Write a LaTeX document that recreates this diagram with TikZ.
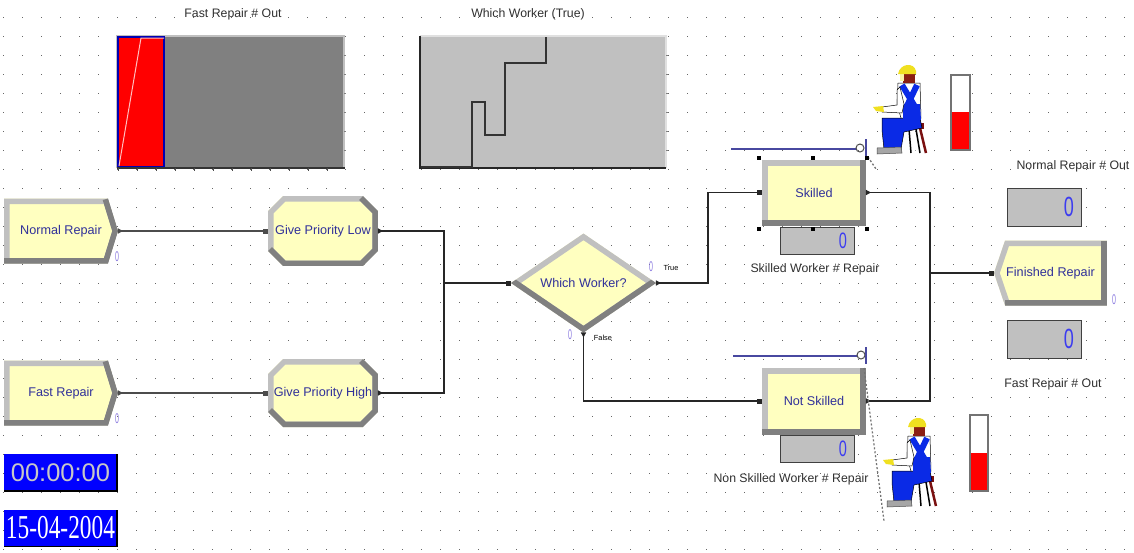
\documentclass[tikz,border=0pt]{standalone}
\usepackage{fontspec}
\setmainfont{Liberation Sans}
\newfontfamily\dateserif{Liberation Serif}
\usetikzlibrary{arrows.meta, calc}

\definecolor{modfill}{HTML}{FFFFC0}
\definecolor{modtext}{HTML}{30309A}
\definecolor{bevlight}{HTML}{C0C0C0}
\definecolor{bevdark}{HTML}{808080}
\definecolor{cntfill}{HTML}{C0C0C0}
\definecolor{cntdigit}{HTML}{3C3CF0}
\definecolor{tagzero}{HTML}{8C7CE0}
\definecolor{labeltext}{HTML}{303030}
\definecolor{resline}{HTML}{4848A0}
\definecolor{plotdark}{HTML}{808080}
\definecolor{plotlight}{HTML}{C0C0C0}
\definecolor{barred}{HTML}{FF0000}
\definecolor{clockblue}{HTML}{0000FF}
\definecolor{overall}{HTML}{0A2AE6}
\definecolor{hathue}{HTML}{F0E020}
\definecolor{hairbrown}{HTML}{8A1E12}
\definecolor{stoolred}{HTML}{7A1010}

% clipped bevel: #1 outline, #2 the darker lower/right part
\newcommand{\bevelshape}[2]{%
  \begin{scope}
    \clip #1;
    \fill[modfill] #1;
    \draw[bevlight, bevel] #1;
    \draw[bevdark, bevel] #2;
  \end{scope}}

\begin{document}
\begin{tikzpicture}[
  x=0.02cm, y=-0.02cm,
  every node/.style={inner sep=0pt, outer sep=0pt},
  bevel/.style={line width=0.22cm, line join=miter},
  module/.style={rectangle, text=modtext, font=\fontsize{7.2}{8.6}\selectfont, align=center},
  createmod/.style={module, path picture={
    \path (path picture bounding box.north west) coordinate (pa)
          (path picture bounding box.north east) coordinate (pb)
          (path picture bounding box.south east) coordinate (pc)
          (path picture bounding box.south west) coordinate (pd)
          (path picture bounding box.east) coordinate (pe);
    \bevelshape{(pa) -- ($(pb)+(-10,0)$) -- (pe) -- ($(pc)+(-10,0)$) -- (pd) -- cycle}
               {($(pb)+(-10,0)$) -- (pe) -- ($(pc)+(-10,0)$) -- (pd)}}},
  assignmod/.style={module, path picture={
    \path (path picture bounding box.north west) coordinate (pa)
          (path picture bounding box.north east) coordinate (pb)
          (path picture bounding box.south east) coordinate (pc)
          (path picture bounding box.south west) coordinate (pd);
    \bevelshape{($(pa)+(15,0)$) -- ($(pb)+(-15,0)$) -- ($(pb)+(0,15)$) -- ($(pc)+(0,-15)$)
                -- ($(pc)+(-15,0)$) -- ($(pd)+(15,0)$) -- ($(pd)+(0,-15)$) -- ($(pa)+(0,15)$) -- cycle}
               {($(pb)+(-15,0)$) -- ($(pb)+(0,15)$) -- ($(pc)+(0,-15)$) -- ($(pc)+(-15,0)$)
                -- ($(pd)+(15,0)$) -- ($(pd)+(0,-15)$)}}},
  decidemod/.style={module, path picture={
    \path (path picture bounding box.north) coordinate (pn)
          (path picture bounding box.east) coordinate (pe)
          (path picture bounding box.south) coordinate (ps)
          (path picture bounding box.west) coordinate (pw);
    \bevelshape{(pw) -- (pn) -- (pe) -- (ps) -- cycle}{(pe) -- (ps) -- (pw)}}},
  processmod/.style={module, path picture={
    \path (path picture bounding box.north west) coordinate (pa)
          (path picture bounding box.north east) coordinate (pb)
          (path picture bounding box.south east) coordinate (pc)
          (path picture bounding box.south west) coordinate (pd);
    \bevelshape{(pa) -- (pb) -- (pc) -- (pd) -- cycle}{(pb) -- (pc) -- (pd)}}},
  disposemod/.style={module, path picture={
    \path (path picture bounding box.north west) coordinate (pa)
          (path picture bounding box.north east) coordinate (pb)
          (path picture bounding box.south east) coordinate (pc)
          (path picture bounding box.south west) coordinate (pd)
          (path picture bounding box.west) coordinate (pw);
    \bevelshape{(pw) -- ($(pa)+(11,0)$) -- (pb) -- (pc) -- ($(pd)+(11,0)$) -- cycle}
               {(pb) -- (pc) -- ($(pd)+(11,0)$)}}},
  counter/.style={rectangle, fill=cntfill, draw=black!75, line width=0.02cm,
                  text=cntdigit, align=right, inner xsep=0.16cm},
  tag/.style={text=tagzero, font=\fontsize{8}{8}\selectfont},
  lbl/.style={text=labeltext, font=\fontsize{7}{8}\selectfont},
  branch/.style={text=black, font=\fontsize{4.2}{5}\selectfont},
  clockbox/.style={rectangle, fill=clockblue, minimum width=2.26cm, minimum height=0.74cm},
  flow/.style={draw=black!85, line width=0.025cm,
               arrows={Triangle[reversed,length=0.1cm,width=0.1cm]-Square[length=0.1cm,width=0.1cm]}},
  flowout/.style={draw=black!85, line width=0.025cm, arrows={Triangle[reversed,length=0.1cm,width=0.1cm]-}},
  flowin/.style={draw=black!85, line width=0.025cm, arrows={-Square[length=0.1cm,width=0.1cm]}},
  worker/.pic={
    % stool
    \draw[stoolred, line width=0.05cm] (31,68) -- (27,93) (50,68) -- (56,93);
    \draw[black, line width=0.03cm] (39,69) -- (41,93) (46,69) -- (50,93);
    \draw[white, line width=0.03cm] (42,69) -- (45,93);
    \fill[stoolred] (28,63) rectangle (54,69);
    % trousers
    \filldraw[fill=overall, draw=black, line width=0.01cm]
      (12,58) -- (50,58) -- (52,68) -- (34,72) -- (31,89) -- (14,89) -- (12,70) -- cycle;
    % shoes
    \filldraw[fill=gray!70, draw=black!70, line width=0.01cm] (7,88) -- (31,87) -- (32,93) -- (7,94) -- cycle;
    % shirt, bib and straps
    \filldraw[fill=white, draw=black, line width=0.01cm] (28,23) -- (50,23) -- (51,58) -- (31,58) -- (27,44) -- cycle;
    \fill[overall] (33,44) -- (50,44) -- (51,60) -- (33,60) -- cycle;
    \draw[overall, line width=0.12cm] (32,25) -- (47,50) (47,25) -- (35,50);
    % arm and hand
    \filldraw[fill=white, draw=black, line width=0.01cm]
      (30,27) -- (34,44) -- (32,53) -- (12,52) -- (12,47) -- (27,45) -- (27,30) -- cycle;
    \fill[hathue] (3,47) -- (13,46) -- (14,52) -- (6,51) -- cycle;
    % head and helmet
    \fill[hairbrown] (33,12) rectangle (45,23);
    \fill[hathue!40!white] (30,12) rectangle (34,21);
    \fill[hathue] (28,14) .. controls (30,3) and (44,2) .. (46,11) -- (46,14) -- cycle;
  }
]
  \useasboundingbox[fill=white] (0,0) rectangle (1134,552);

  % snap grid
  \foreach \gx in {3,22,...,1124}
    \foreach \gy in {17,36,...,549}
      \fill[black!60] (\gx,\gy) rectangle ++(1.1,1.1);

  % ---- plots ----
  \node[lbl] (lblfastplot) at (233,14) {Fast Repair \# Out};
  \fill[plotdark] (117,36) rectangle (344,168);
  \draw[plotlight, line width=0.03cm] (117,168) -- (117,36) -- (344,36) -- (344,168);
  \fill[barred] (118,37) rectangle (164,167);
  \draw[blue!70!black, line width=0.025cm] (118,37) rectangle (164,167);
  \draw[white!75!red, line width=0.02cm] (119,166) -- (141,38) -- (164,38);
  \draw[black!80, line width=0.025cm] (117,168) -- (345,168);
  \foreach \tx in {118,137,...,345} \draw[black!70] (\tx,168) -- ++(0,3);
  \foreach \ty in {55,74,...,151} \draw[black!50] (344,\ty) -- ++(2,0);

  \node[lbl] (lblworkplot) at (528,14) {Which Worker (True)};
  \fill[plotlight] (420,36) rectangle (666,168);
  \draw[black!12, line width=0.03cm] (420,36) -- (666,36) -- (666,168);
  \draw[black!85, line width=0.04cm] (420,36) -- (420,168) -- (666,168);
  \draw[black!80, line width=0.04cm]
    (421,167) -- (472,167) -- (472,102) -- (485,102) -- (485,135) -- (505,135)
    -- (505,63) -- (546,63) -- (546,37);
  \foreach \ty in {55,74,...,151} \draw[black!50] (666,\ty) -- ++(2,0);

  % ---- modules ----
  \node[createmod, minimum width=2.28cm, minimum height=1.30cm] (nrep) at (61,231) {Normal Repair};
  \node[createmod, minimum width=2.28cm, minimum height=1.30cm] (frep) at (61,393) {Fast Repair};
  \node[assignmod, minimum width=2.2cm, minimum height=1.4cm] (prlow) at (323,231) {Give Priority Low};
  \node[assignmod, minimum width=2.2cm, minimum height=1.36cm] (prhigh) at (323,393) {Give Priority High};
  \node[decidemod, minimum width=2.9cm, minimum height=1.98cm] (which) at (583.5,283) {Which Worker?};
  \node[processmod, minimum width=2.08cm, minimum height=1.3cm] (skilled) at (814,192.5) {Skilled};
  \node[processmod, minimum width=2.08cm, minimum height=1.32cm] (notsk) at (814,401) {Not Skilled};
  \node[disposemod, minimum width=2.26cm, minimum height=1.3cm] (finrep) at (1050.5,273) {Finished Repair};

  % module counters
  \node[tag] (tnrep) at (117,257) {\scalebox{0.5}[1]{0}};
  \node[tag] (tfrep) at (117,419) {\scalebox{0.5}[1]{0}};
  \node[tag] (twtrue) at (651,267) {\scalebox{0.5}[1]{0}};
  \node[tag] (twfalse) at (570,335) {\scalebox{0.5}[1]{0}};
  \node[tag] (tfin) at (1114,300) {\scalebox{0.5}[1]{0}};
  \node[branch] (lbltrue) at (671,268) {True};
  \node[branch] (lblfalse) at (603,338) {False};

  % ---- connections ----
  \coordinate (join) at (444,283);
  \coordinate (truebend) at (708,283);
  \coordinate (merge) at (930,273);
  \draw[flow, draw=black!70] (nrep.east) -- (prlow.west);
  \draw[flow, draw=black!70] (frep.east) -- (prhigh.west);
  \draw[flowout] (prlow.east) -| (join);
  \draw[flowout] (prhigh.east) -| (join);
  \draw[flowin] (join) -- (which.west);
  \draw[flow] (which.east) -- (truebend) |- (skilled.west);
  \draw[flow] (which.south) |- (notsk.west);
  \draw[flowout] (skilled.east) -| (merge);
  \draw[flowout] (notsk.east) -| (merge);
  \draw[flowin] (merge) -- (finrep.west);

  % ---- queues and resources ----
  \node[counter, minimum width=1.5cm, minimum height=0.54cm, text width=1.18cm,
        font=\fontsize{12.7}{13}\selectfont] (skq) at (817.5,240.5) {\scalebox{0.65}[1]{0}};
  \node[lbl] (lblskq) at (815,269) {Skilled Worker \# Repair};
  \node[counter, minimum width=1.5cm, minimum height=0.54cm, text width=1.18cm,
        font=\fontsize{12.7}{13}\selectfont] (nsq) at (817.5,448.5) {\scalebox{0.65}[1]{0}};
  \node[lbl] (lblnsq) at (791,479) {Non Skilled Worker \# Repair};

  \draw[resline, line width=0.03cm] (731,149) -- (856,149);
  \draw[black!70, line width=0.02cm] (860,148) circle (0.08cm);
  \draw[resline, line width=0.03cm] (866,139) -- (866,156);
  \draw[black!55, line width=0.025cm, dash pattern=on 0.04cm off 0.04cm] (868,157) -- (876,169);
  \draw[resline, line width=0.03cm] (733,356) -- (857,356);
  \draw[black!70, line width=0.02cm] (861,355) circle (0.08cm);
  \draw[resline, line width=0.03cm] (866,347) -- (866,364);
  \draw[black!55, line width=0.025cm, dash pattern=on 0.04cm off 0.04cm] (864,368) -- (884,521);

  % selection handles
  \foreach \hx/\hy in {759/158, 813/158, 867/158, 759/229, 813/229, 867/229}
    \fill[black] (\hx-2,\hy-2) rectangle ++(4,4);

  % workers and their busy levels
  \pic at (870,60) {worker};
  \pic at (880,413) {worker};
  \draw[black!55, fill=white, line width=0.03cm] (951,75) rectangle (970,150);
  \fill[barred] (952,112) rectangle (969,149);
  \draw[black!55, fill=white, line width=0.03cm] (970,415) rectangle (988,491);
  \fill[barred] (971,453) rectangle (987,490);

  % ---- output counters ----
  \node[lbl] (lblnormout) at (1073,166) {Normal Repair \# Out};
  \node[counter, minimum width=1.5cm, minimum height=0.76cm, text width=1.18cm,
        font=\fontsize{15.8}{16}\selectfont] (normout) at (1044.5,207) {\scalebox{0.65}[1]{0}};
  \node[counter, minimum width=1.5cm, minimum height=0.76cm, text width=1.18cm,
        font=\fontsize{15.8}{16}\selectfont] (fastout) at (1044.5,339) {\scalebox{0.65}[1]{0}};
  \node[lbl] (lblfastout) at (1053,384) {Fast Repair \# Out};

  % ---- clock and date ----
  \node[clockbox, text=black!22, font=\fontsize{14.5}{15}\selectfont] (clock) at (60.5,472.5) {00:00:00};
  \node[clockbox, text=white, font=\dateserif\fontsize{19}{20}\selectfont] (date) at (60.5,528)
    {\scalebox{0.7}[1]{15-04-2004}};
  \draw[black, line width=0.03cm] (clock.south west) -- (clock.south east) -- (clock.north east);
  \draw[black, line width=0.03cm] (date.south west) -- (date.south east) -- (date.north east);
\end{tikzpicture}
\end{document}
